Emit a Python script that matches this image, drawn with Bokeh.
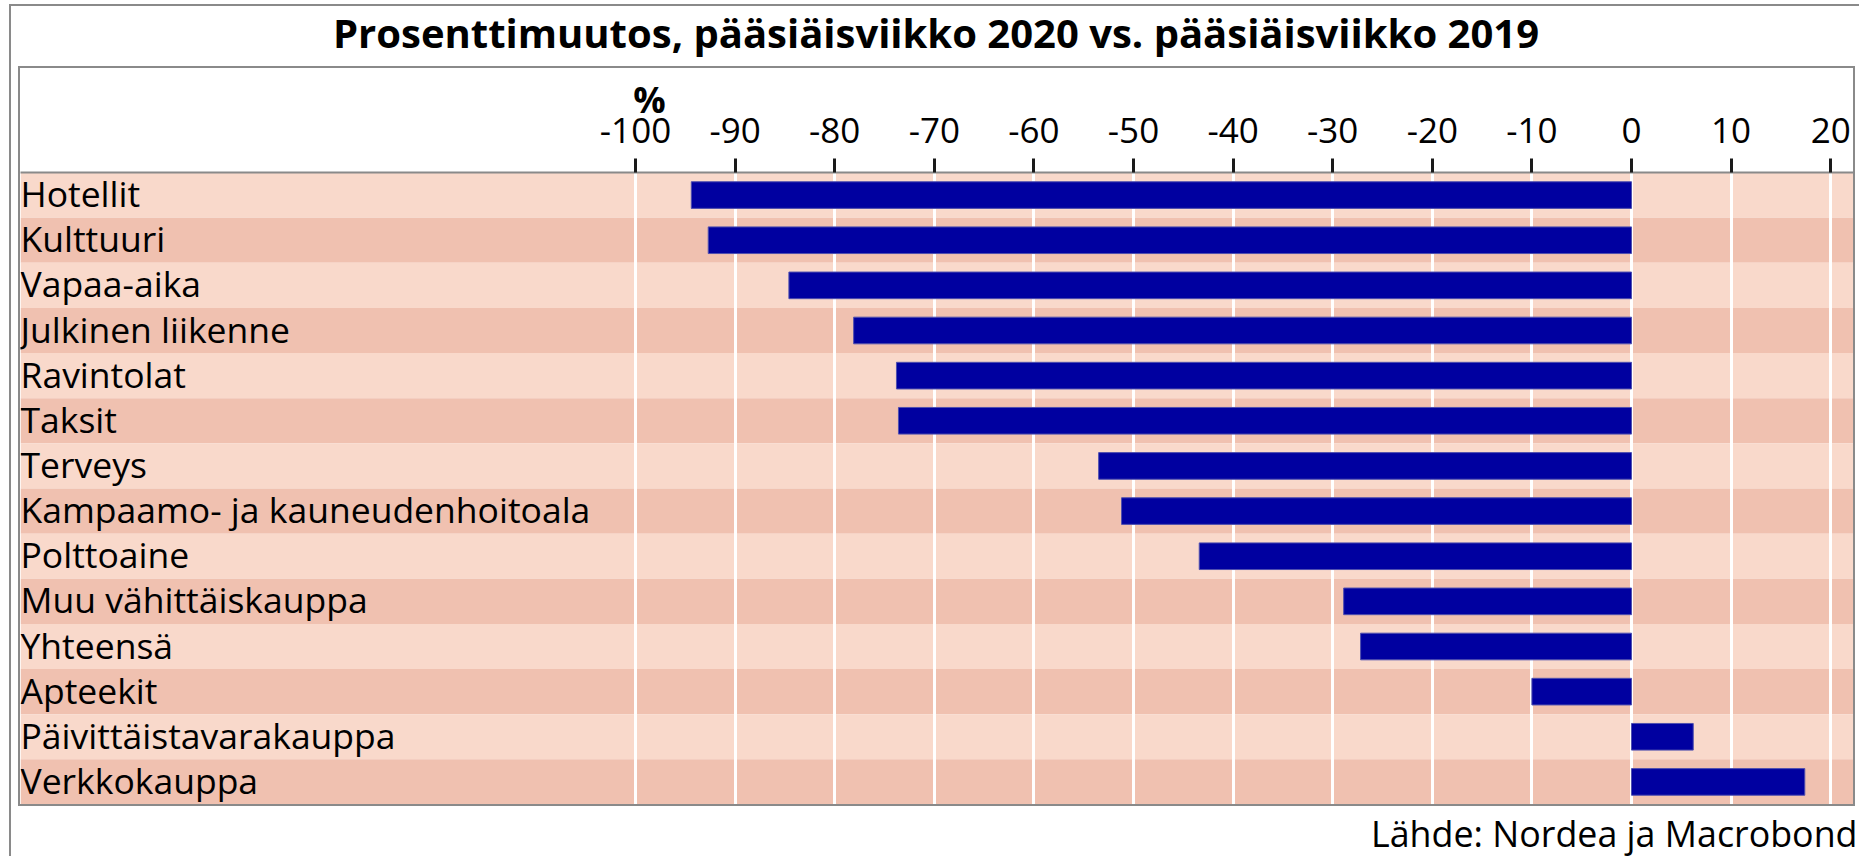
import json
from bokeh.plotting import figure
from bokeh.models import (Range1d, FactorRange, FixedTicker, ColumnDataSource, Div,
                          LinearAxis, CustomJSTickFormatter)
from bokeh.layouts import column, row
from bokeh.embed import file_html
from bokeh.resources import INLINE
from bokeh.core.properties import value

# ---------------- data ----------------
categories = [
    "Hotellit", "Kulttuuri", "Vapaa-aika", "Julkinen liikenne", "Ravintolat",
    "Taksit", "Terveys", "Kampaamo- ja kauneudenhoitoala", "Polttoaine",
    "Muu vähittäiskauppa", "Yhteensä", "Apteekit", "Päivittäistavarakauppa",
    "Verkkokauppa",
]
changes = [-94.4, -92.7, -84.6, -78.1, -73.8, -73.6, -53.5, -51.2, -43.4,
           -28.9, -27.2, -10.0, 6.2, 17.4]
tick_values = [-100, -90, -80, -70, -60, -50, -40, -30, -20, -10, 0, 10, 20]
tick_labels = ["-100", "-90", "-80", "-70", "-60", "-50", "-40", "-30",
               "-20", "-10", "0", "10", "20"]
title_text = "Prosenttimuutos, pääsiäisviikko 2020 vs. pääsiäisviikko 2019"
unit_text = "%"
source_text = "Lähde: Nordea ja Macrobond"

# ---------------- styling / layout ----------------
band_colors = ["#F9D9CB", "#F0C1B0"]
bar_color = "#0000A0"
GRAY = "#8A8A8A"
FONT = "Open Sans"
X_START, X_END = -161.75, 22.29
UNIT_X = -98.6          # where the unit label sits along the value axis
n = len(categories)


def block(w, h, color=None):
    st = {"background-color": color} if color else {}
    return Div(text="", width=w, height=h, margin=0, styles=st)


def blank_fig(w, h):
    f = figure(width=w, height=h, output_backend="svg", toolbar_location=None,
               x_range=Range1d(0, w), y_range=Range1d(h, 0), min_border=0,
               title=None, margin=0)
    f.axis.visible = False
    f.grid.visible = False
    f.outline_line_color = None
    f.background_fill_color = "white"
    f.border_fill_color = "white"
    return f


# ---- title strip ----
tfig = blank_fig(1848, 60)
tfig.text(x=[924.5], y=[25.5], text=[title_text], text_align="center",
          text_baseline="middle", text_font=value(FONT), text_font_style="bold",
          text_font_size=value("40px"), text_color="black")

# ---- source strip ----
sfig = blank_fig(1848, 50)
sfig.text(x=[1846], y=[26], text=[source_text], text_align="right",
          text_baseline="middle", text_font=value(FONT),
          text_font_size=value("35.8px"), text_color="black")

# ---- main chart ----
p = figure(
    width=1833, height=736, output_backend="svg", toolbar_location=None,
    x_range=Range1d(X_START, X_END),
    y_range=FactorRange(factors=categories[::-1]),
    x_axis_location="above", y_axis_location=None,
    min_border_left=0, min_border_right=0, min_border_top=104, min_border_bottom=0,
    title=None, margin=0,
)
p.background_fill_color = "white"
p.border_fill_color = "white"
p.outline_line_color = None

band_src = ColumnDataSource(dict(
    y=categories,
    left=[X_START] * n,
    right=[X_END] * n,
    color=[band_colors[i % 2] for i in range(n)],
))
p.hbar(y="y", left="left", right="right", height=1.0, fill_color="color",
       line_color=None, source=band_src, level="image")

p.xgrid.ticker = FixedTicker(ticks=tick_values)
p.xgrid.grid_line_color = "white"
p.xgrid.grid_line_width = 3
p.xgrid.level = "underlay"
p.ygrid.visible = False

bar_src = ColumnDataSource(dict(
    y=categories,
    left=[min(v, 0) for v in changes],
    right=[max(v, 0) for v in changes],
))
p.hbar(y="y", left="left", right="right", height=0.59, source=bar_src,
       fill_color=bar_color, line_color="#4F4FAF", line_width=1)

p.text(x=[X_START] * n, y=categories, text=categories, x_offset=0, y_offset=-2,
       text_align="left", text_baseline="middle",
       text_font=value(FONT), text_font_size=value("35.5px"), text_color="black")

ax = p.xaxis[0]
ax.ticker = FixedTicker(ticks=tick_values)
ax.major_label_overrides = {v: s for v, s in zip(tick_values, tick_labels)}
ax.minor_tick_line_color = None
ax.major_tick_out = 14
ax.major_tick_in = 0
ax.major_tick_line_color = "#1A1A1A"
ax.major_tick_line_width = 3
ax.axis_line_color = GRAY
ax.axis_line_width = 2
ax.major_label_text_font = FONT
ax.major_label_text_font_size = "35px"
ax.major_label_text_color = "black"
ax.major_label_standoff = 16

unit_ax = LinearAxis(
    ticker=FixedTicker(ticks=[UNIT_X]),
    formatter=CustomJSTickFormatter(code="return %s;" % json.dumps(unit_text)),
    axis_line_color=None, major_tick_line_color=None, minor_tick_line_color=None,
    major_tick_out=0, major_tick_in=0, major_label_standoff=-9,
    major_label_text_font=FONT, major_label_text_font_style="bold",
    major_label_text_font_size="36px", major_label_text_color="black",
)
p.add_layout(unit_ax, "above")

# ---- assemble with frame lines ----
inner = row(
    block(7, 740),
    block(2, 740, GRAY),
    column(block(1833, 2, GRAY), p, block(1833, 2, GRAY), spacing=0, margin=0),
    block(2, 740, GRAY),
    spacing=0, margin=0,
)
content = column(block(1848, 2, GRAY), tfig, inner, sfig, spacing=0, margin=0)
page = column(
    block(1859, 4),
    row(block(9, 852), block(2, 852, GRAY), content, spacing=0, margin=0),
    spacing=0, margin=0,
)

open("out.html", "w").write(file_html(page, INLINE))
